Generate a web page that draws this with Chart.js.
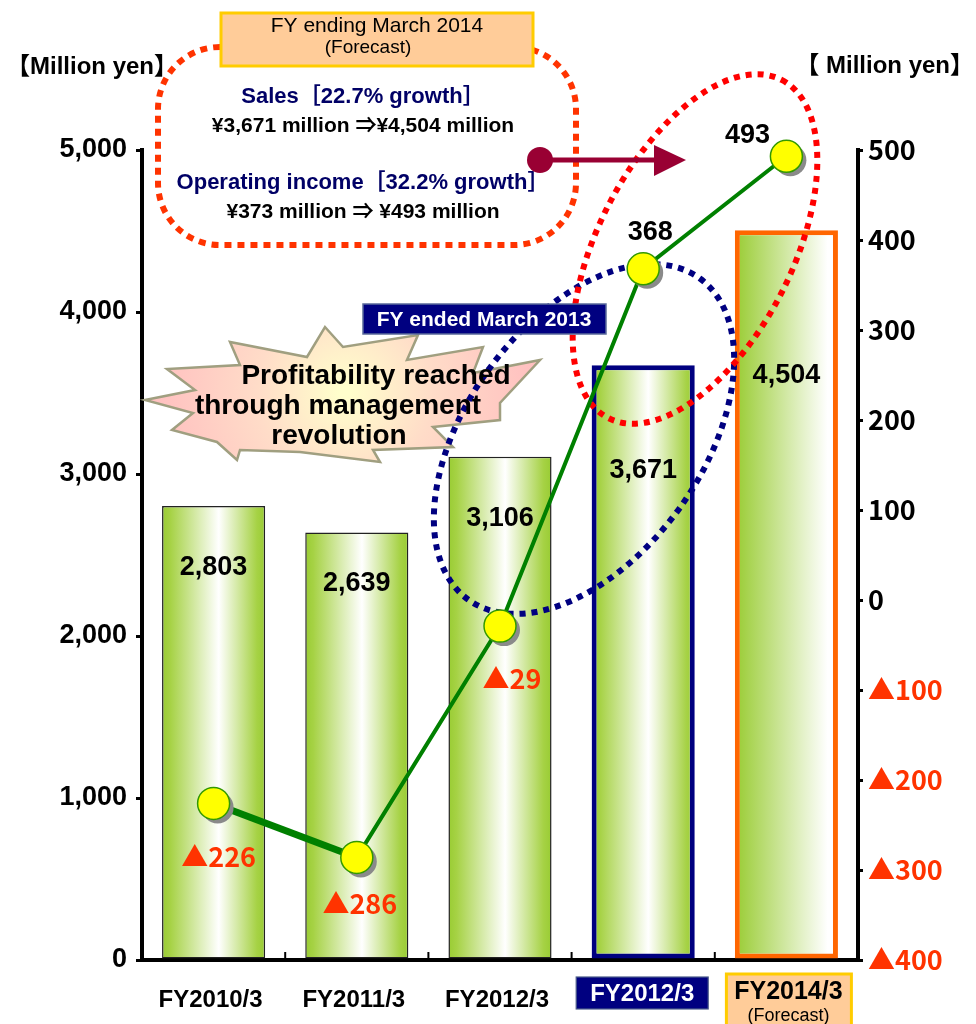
<!DOCTYPE html>
<html>
<head>
<meta charset="utf-8">
<script src="https://cdn.jsdelivr.net/npm/chart.js@4.4.1/dist/chart.umd.min.js"></script>
<style>
  html, body { margin: 0; padding: 0; background: #ffffff; }
  #wrap { width: 976px; height: 1024px; position: relative; }
</style>
</head>
<body>
<div id="wrap"><canvas id="c" width="976" height="1024"></canvas></div>
<script>
// ---------- DATA ----------
const categories = ['FY2010/3', 'FY2011/3', 'FY2012/3', 'FY2012/3', 'FY2014/3'];
const salesValues = [2803, 2639, 3106, 3671, 4504];          // Million yen (left axis)
const operatingIncome = [-226, -286, -29, 368, 493];         // Million yen (right axis)
const leftAxisRange = [0, 5000];
const leftAxisStep = 1000;
const rightAxisRange = [-400, 500];
const rightAxisStep = 100;

// ---------- LAYOUT / STYLE (not data) ----------
const FONT = "'Liberation Sans', 'Noto Sans CJK JP', sans-serif";
const CJK = "'Noto Sans CJK JP', 'Liberation Sans', sans-serif";
const barLabelOffsets = [62, 51, 62, 105, 145];
const incomeLabelOffsets = [[5, 53], [3, 46], [12, 53], [7, -36], [-39, -21]];
const barBorderColors = ['#222222', '#222222', '#222222', '#000080', '#ff6600'];
const barBorderWidths = [1.5, 1.5, 1.5, 5, 5];
const starburst = [
  [145,400],[195,390],[167,369],[240,365],[230,342],[307,357],[325,327],[343,347],
  [418,335],[407,360],[483,347],[473,373],[540,360],[500,403],[500,420],[433,427],
  [453,447],[373,450],[380,462],[300,452],[240,450],[237,460],[217,442],[172,430],[193,413]
];

function fmt(v) { return v.toLocaleString('en-US'); }
function fmtIncome(v) { return v < 0 ? '\u25B2' + Math.abs(v) : String(v); }

function barGradient(ctx) {
  const chart = ctx.chart;
  const xs = chart.scales && chart.scales.x;
  if (!chart.chartArea || !xs || ctx.dataIndex === undefined) return '#99cc33';
  const cx = xs.getPixelForValue(ctx.dataIndex);
  const w = (xs.width / categories.length) * 0.72;
  const g = chart.ctx.createLinearGradient(cx - w / 2, 0, cx + w / 2, 0);
  if (ctx.dataIndex === categories.length - 1) {
    g.addColorStop(0, '#99cc33');
    g.addColorStop(0.9, '#ffffff');
    g.addColorStop(1, '#ffffff');
  } else {
    g.addColorStop(0, '#99cc33');
    g.addColorStop(0.08, '#a6d245');
    g.addColorStop(0.55, '#ffffff');
    g.addColorStop(0.92, '#a6d245');
    g.addColorStop(1, '#99cc33');
  }
  return g;
}

function dottedEllipse(c, cx, cy, rx, ry, rot, color) {
  c.save();
  c.beginPath();
  c.ellipse(cx, cy, rx, ry, rot, 0, Math.PI * 2);
  c.setLineDash([6, 6]);
  c.lineWidth = 6;
  c.strokeStyle = color;
  c.stroke();
  c.restore();
}

function text(c, s, x, y, font, color, align) {
  c.font = font;
  c.fillStyle = color;
  c.textAlign = align || 'center';
  c.textBaseline = 'middle';
  c.fillText(s, x, y);
}

const decorPlugin = {
  id: 'decor',
  beforeDatasetDraw(chart, args) {
    const c = chart.ctx;
    if (args.index === 2) {
      // grey drop shadow behind income points
      c.save();
      c.fillStyle = '#8a8a8a';
      args.meta.data.forEach(el => {
        c.beginPath();
        c.arc(el.x + 4, el.y + 4, 16, 0, Math.PI * 2);
        c.fill();
      });
      c.restore();
      return;
    }
    if (args.index !== 1) return;
    // starburst
    c.save();
    const rg = c.createRadialGradient(345, 392, 5, 345, 392, 190);
    rg.addColorStop(0, '#ffffcc');
    rg.addColorStop(0.45, '#ffdcc8');
    rg.addColorStop(1, '#ffc0c0');
    c.beginPath();
    starburst.forEach((p, i) => i ? c.lineTo(p[0], p[1]) : c.moveTo(p[0], p[1]));
    c.closePath();
    c.fillStyle = rg;
    c.fill();
    c.lineWidth = 2.5;
    c.strokeStyle = '#a09f80';
    c.stroke();
    c.restore();
    // dotted rounded callout
    c.save();
    c.beginPath();
    c.roundRect(158, 47, 418, 198, 62);
    c.setLineDash([7, 6]);
    c.lineWidth = 6;
    c.strokeStyle = '#ff3300';
    c.stroke();
    c.restore();
    // dotted ellipses
    dottedEllipse(c, 584, 439, 198, 118, -Math.PI / 3 + 0.1, '#000080');
    dottedEllipse(c, 695, 249, 190, 97, -Math.PI / 3 - 0.05, '#ff0000');
  },
  afterDatasetsDraw(chart) {
    const c = chart.ctx;
    const xs = chart.scales.x;
    c.save();
    // bar value labels
    const barMeta = chart.getDatasetMeta(0);
    barMeta.data.forEach((el, i) => {
      text(c, fmt(salesValues[i]), el.x, el.y + barLabelOffsets[i], 'bold 27px ' + FONT, '#000');
    });
    // income labels
    const ptMeta = chart.getDatasetMeta(2);
    ptMeta.data.forEach((el, i) => {
      const v = operatingIncome[i];
      text(c, fmtIncome(v), el.x + incomeLabelOffsets[i][0], el.y + incomeLabelOffsets[i][1],
        'bold 27px ' + (v < 0 ? CJK : FONT), v < 0 ? '#ff3300' : '#000');
    });
    // starburst text
    text(c, 'Profitability reached', 376, 376, 'bold 28px ' + FONT, '#000');
    text(c, 'through management', 338, 406, 'bold 28px ' + FONT, '#000');
    text(c, 'revolution', 339, 436, 'bold 28px ' + FONT, '#000');
    // FY ended March 2013 tag
    c.fillStyle = '#000080';
    c.fillRect(363, 304, 243, 30);
    c.strokeStyle = '#5a6a9a';
    c.lineWidth = 1.5;
    c.strokeRect(363, 304, 243, 30);
    text(c, 'FY ended March 2013', 484, 320, 'bold 21px ' + FONT, '#ffffff');
    // forecast callout box
    c.fillStyle = '#ffcc99';
    c.fillRect(221, 13, 312, 53);
    c.strokeStyle = '#ffcc00';
    c.lineWidth = 3;
    c.strokeRect(221, 13, 312, 53);
    text(c, 'FY ending March 2014', 377, 26, '21px ' + FONT, '#000');
    text(c, '(Forecast)', 368, 48, '19px ' + FONT, '#000');
    // callout texts
    text(c, 'Sales\uFF3B22.7% growth\uFF3D', 363, 97, 'bold 22px ' + FONT, '#000066');
    text(c, '\u00A53,671 million \u21D2\u00A54,504 million', 363, 126, 'bold 21px ' + FONT, '#000');
    text(c, 'Operating income\uFF3B32.2% growth\uFF3D', 363, 183, 'bold 22px ' + FONT, '#000066');
    text(c, '\u00A5373 million \u21D2 \u00A5493 million', 363, 212, 'bold 21px ' + FONT, '#000');
    // arrow
    c.strokeStyle = '#990033';
    c.lineWidth = 5;
    c.beginPath(); c.moveTo(540, 160); c.lineTo(660, 160); c.stroke();
    c.fillStyle = '#990033';
    c.beginPath(); c.moveTo(654, 145); c.lineTo(686, 160); c.lineTo(654, 176); c.closePath(); c.fill();
    c.beginPath(); c.arc(540, 160, 13, 0, Math.PI * 2); c.fill();
    // axis titles
    text(c, '\u3010Million yen\u3011', 6, 67, 'bold 24px ' + FONT, '#000', 'left');
    text(c, '\u3010 Million yen\u3011', 974, 66, 'bold 24px ' + FONT, '#000', 'right');
    // x-axis labels
    categories.forEach((lab, i) => {
      const x = xs.getPixelForValue(i);
      if (i === 3) {
        c.fillStyle = '#000080';
        c.fillRect(x - 67, 977, 132, 32);
        c.strokeStyle = '#4a5a8a'; c.lineWidth = 1.2;
        c.strokeRect(x - 67, 977, 132, 32);
        text(c, lab, x - 1, 994, 'bold 24px ' + FONT, '#ffffff');
      } else if (i === 4) {
        c.fillStyle = '#ffcc99';
        c.fillRect(x - 60, 974, 125, 56);
        c.strokeStyle = '#ffcc00'; c.lineWidth = 3;
        c.strokeRect(x - 60, 974, 125, 56);
        text(c, lab, x + 2, 992, 'bold 25px ' + FONT, '#000');
        text(c, '(Forecast)', x + 2, 1016, '18px ' + FONT, '#000');
      } else {
        text(c, lab, x - 3, 1000, 'bold 24px ' + FONT, '#000');
      }
    });
    // small inward ticks on x axis at category boundaries
    c.strokeStyle = '#000'; c.lineWidth = 2;
    for (let i = 1; i < categories.length; i++) {
      const bx = (xs.getPixelForValue(i - 1) + xs.getPixelForValue(i)) / 2;
      c.beginPath(); c.moveTo(bx, 952); c.lineTo(bx, 960); c.stroke();
    }
    c.restore();
  }
};

new Chart(document.getElementById('c'), {
  data: {
    labels: categories,
    datasets: [
      {
        type: 'bar',
        label: 'Sales',
        data: salesValues,
        yAxisID: 'y',
        order: 3,
        backgroundColor: barGradient,
        borderColor: barBorderColors,
        borderWidth: barBorderWidths,
        borderSkipped: false,
        barPercentage: 0.72,
        categoryPercentage: 1.0
      },
      {
        type: 'line',
        label: 'Operating income',
        data: operatingIncome,
        yAxisID: 'y1',
        order: 2,
        borderColor: '#008000',
        borderWidth: 4,
        segment: { borderWidth: ctx => ctx.p0DataIndex === 0 ? 7 : 4 },
        pointRadius: 0,
        tension: 0,
        clip: false
      },
      {
        type: 'line',
        label: 'Operating income points',
        data: operatingIncome,
        yAxisID: 'y1',
        order: 1,
        showLine: false,
        pointRadius: 16,
        pointBackgroundColor: '#ffff00',
        pointBorderColor: '#339900',
        pointBorderWidth: 1.5,
        clip: false
      }
    ]
  },
  options: {
    responsive: false,
    animation: false,
    layout: { padding: { top: 150, bottom: 0, left: 0, right: 0 } },
    plugins: { legend: { display: false }, tooltip: { enabled: false } },
    scales: {
      x: {
        type: 'category',
        offset: true,
        grid: { display: false },
        border: { color: '#000', width: 4 },
        ticks: { display: false },
        afterFit(s) { s.height = 64; }
      },
      y: {
        position: 'left',
        min: leftAxisRange[0],
        max: leftAxisRange[1],
        ticks: {
          stepSize: leftAxisStep,
          callback: v => fmt(v),
          font: { family: FONT, size: 27, weight: 'bold' },
          color: '#000',
          padding: 9
        },
        grid: { drawOnChartArea: false, drawTicks: true, tickLength: 6, color: '#000', lineWidth: 3 },
        border: { color: '#000', width: 4 },
        afterFit(s) { s.width = 142; }
      },
      y1: {
        position: 'right',
        min: rightAxisRange[0],
        max: rightAxisRange[1],
        ticks: {
          stepSize: rightAxisStep,
          callback: v => fmtIncome(v),
          font: { family: CJK, size: 27, weight: 'bold' },
          color: ctx => ctx.tick.value < 0 ? '#ff3300' : '#000',
          padding: 5
        },
        grid: { drawOnChartArea: false, drawTicks: true, tickLength: 5, color: '#000', lineWidth: 3 },
        border: { color: '#000', width: 4 },
        afterFit(s) { s.width = 118; }
      }
    }
  },
  plugins: [decorPlugin]
});
</script>
</body>
</html>
